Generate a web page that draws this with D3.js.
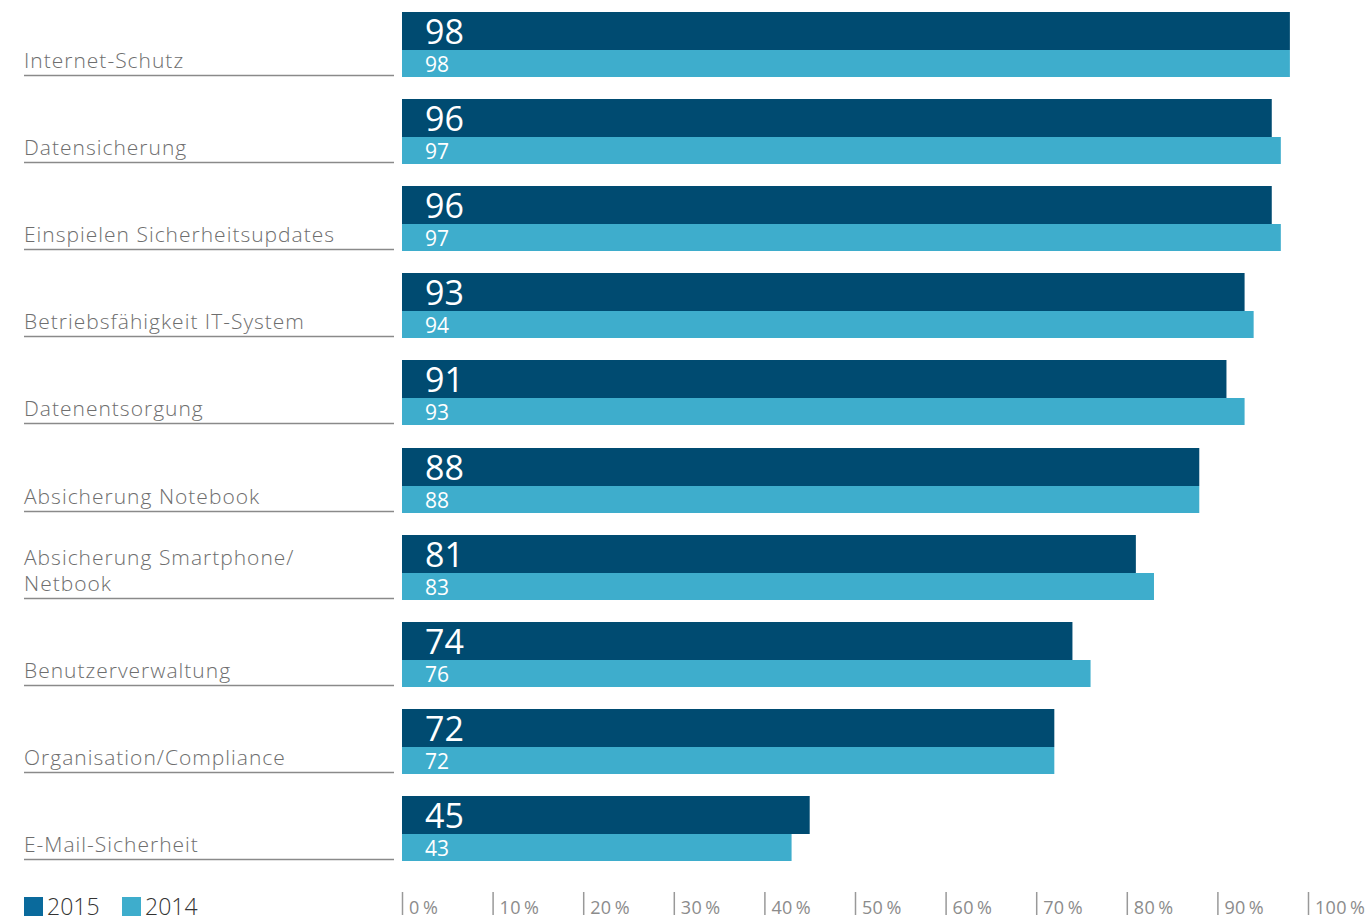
<!DOCTYPE html>
<html>
<head>
<meta charset="utf-8">
<script src="https://cdn.jsdelivr.net/npm/d3@7"></script>
<style>
  body { margin: 0; background: #fff; }
  text { font-family: "Open Sans", "DejaVu Sans", sans-serif; }
</style>
</head>
<body>
<div id="plot"></div>
<script>
var categories = [
    ["Internet-Schutz"],
    ["Datensicherung"],
    ["Einspielen Sicherheitsupdates"],
    ["Betriebsfähigkeit IT-System"],
    ["Datenentsorgung"],
    ["Absicherung Notebook"],
    ["Absicherung Smartphone/", "Netbook"],
    ["Benutzerverwaltung"],
    ["Organisation/Compliance"],
    ["E-Mail-Sicherheit"]
];
var values2015 = [98, 96, 96, 93, 91, 88, 81, 74, 72, 45];
var values2014 = [98, 97, 97, 94, 93, 88, 83, 76, 72, 43];
var ticks = [0, 10, 20, 30, 40, 50, 60, 70, 80, 90, 100];
var years = ["2015", "2014"];

var width = 1370, height = 919;
var darkH = 38, lightH = 27;

var svg = d3.select("#plot").append("svg")
    .attr("width", width)
    .attr("height", height);

// scales
var Xscale = d3.scaleLinear().domain([0, 100]).range([402, 1308]);
var Yscale = d3.scalePoint()
    .domain(d3.range(categories.length))
    .range([12, 796]);

var groups = svg.selectAll("g.grp")
    .data(categories)
    .enter().append("g")
    .attr("class", "grp")
    .attr("transform", function(d, i) { return "translate(0," + Math.round(Yscale(i)) + ")"; });

// 2015 bars
groups.append("rect")
    .attr("x", Xscale(0))
    .attr("y", 0)
    .attr("width", function(d, i) { return Xscale(values2015[i]) - Xscale(0); })
    .attr("height", darkH)
    .attr("fill", "#004b71");

// 2014 bars
groups.append("rect")
    .attr("x", Xscale(0))
    .attr("y", darkH)
    .attr("width", function(d, i) { return Xscale(values2014[i]) - Xscale(0); })
    .attr("height", lightH)
    .attr("fill", "#3eadcc");

// value labels
groups.append("text")
    .attr("x", Xscale(0) + 23)
    .attr("y", 32)
    .attr("fill", "white")
    .style("font-size", "34px")
    .text(function(d, i) { return values2015[i]; });

groups.append("text")
    .attr("x", Xscale(0) + 23)
    .attr("y", 60)
    .attr("fill", "white")
    .style("font-size", "21px")
    .text(function(d, i) { return values2014[i]; });

// category labels + underline
groups.each(function(d) {
    var g = d3.select(this);
    var lines = d;
    var last = 56;
    lines.forEach(function(s, k) {
        g.append("text")
            .attr("x", 24)
            .attr("y", last - (lines.length - 1 - k) * 26)
            .attr("fill", "#6e6e6e")
            .style("font-size", "21px")
            .style("font-weight", 300)
            .style("letter-spacing", "1px")
            .text(s);
    });
});

groups.append("line")
    .attr("x1", 24)
    .attr("x2", 394)
    .attr("y1", 63.5)
    .attr("y2", 63.5)
    .attr("stroke", "#8a8a8a")
    .attr("stroke-width", 1.5);

// x axis (handmade ticks)
var axis = svg.append("g");
axis.selectAll("line")
    .data(ticks)
    .enter().append("line")
    .attr("x1", function(d) { return Xscale(d) + 0.5; })
    .attr("x2", function(d) { return Xscale(d) + 0.5; })
    .attr("y1", 892)
    .attr("y2", 915)
    .attr("stroke", "#999")
    .attr("stroke-width", 1.5);

axis.selectAll("text")
    .data(ticks)
    .enter().append("text")
    .attr("x", function(d) { return Xscale(d) + 7; })
    .attr("y", 914)
    .attr("fill", "#8c8c8c")
    .style("font-size", "18px")
    .style("letter-spacing", "0.3px")
    .text(function(d) { return d + "\u2009%"; });

// legend
var legendColors = ["#0a6a9c", "#3eadcc"];
var legend = svg.append("g");
legend.selectAll("rect")
    .data(years)
    .enter().append("rect")
    .attr("x", function(d, i) { return 24 + i * 98; })
    .attr("y", 897)
    .attr("width", 19)
    .attr("height", 19)
    .attr("fill", function(d, i) { return legendColors[i]; });

legend.selectAll("text")
    .data(years)
    .enter().append("text")
    .attr("x", function(d, i) { return 47 + i * 98; })
    .attr("y", 915)
    .attr("fill", "#333")
    .style("font-size", "23px")
    .style("font-weight", 300)
    .text(function(d) { return d; });
</script>
</body>
</html>
